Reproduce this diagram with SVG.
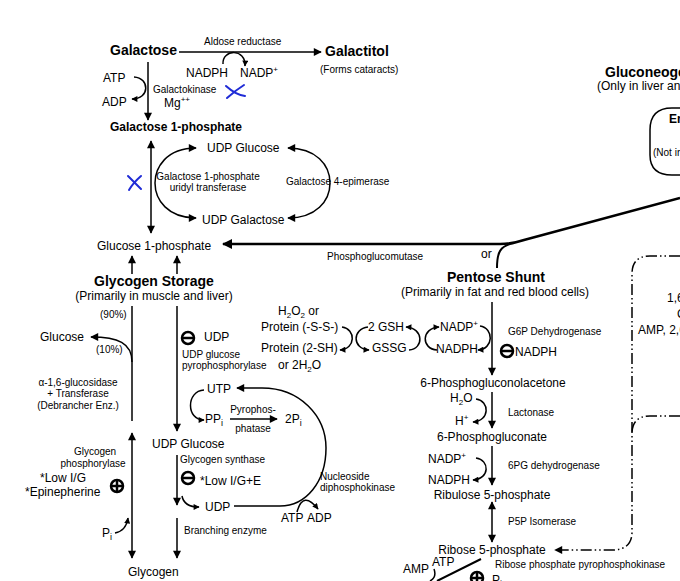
<svg xmlns="http://www.w3.org/2000/svg" width="680" height="581" viewBox="0 0 680 581">
<style>
text{font-family:"Liberation Sans",Arial,sans-serif;font-size:12px;fill:#000}
.s{font-size:10px}
.b{font-weight:bold;font-size:14px}
.m{text-anchor:middle}
.ln{fill:none;stroke:#000;stroke-width:1.5}
.th{stroke-width:2.5}
.dd{stroke-dasharray:11 3 1.5 3 1.5 3}
.x{fill:none;stroke:#1f2bd6;stroke-width:2;stroke-linecap:round}
.sym{fill:none;stroke:#000;stroke-width:2.5}
</style>
<defs>
<marker id="a" viewBox="0 0 10 10" refX="9" refY="5" markerWidth="10" markerHeight="8" orient="auto-start-reverse" markerUnits="userSpaceOnUse"><path d="M0,0 L10,5 L0,10 z"/></marker>
<marker id="sa" viewBox="0 0 10 10" refX="9" refY="5" markerWidth="7" markerHeight="6" orient="auto-start-reverse" markerUnits="userSpaceOnUse"><path d="M0,0 L10,5 L0,10 z"/></marker>
<marker id="ba" viewBox="0 0 10 10" refX="9" refY="5" markerWidth="13" markerHeight="10" orient="auto-start-reverse" markerUnits="userSpaceOnUse"><path d="M0,0 L10,5 L0,10 z"/></marker>
</defs>
<rect width="680" height="581" fill="#fff"/>

<g id="connectors">
<path class="ln" d="M179,52 L321,52" marker-end="url(#a)"/>
<path class="ln" d="M223,64 C222,49 246,48 245,66" marker-end="url(#sa)"/>
<path class="ln" d="M148,62 L148,120" marker-end="url(#a)"/>
<path class="ln" d="M134,77 C150,78 150,99 132,99" marker-end="url(#sa)"/>
<path class="ln" d="M151,141 L151,233" marker-start="url(#a)" marker-end="url(#a)"/>
<path class="ln" d="M196,148 C166,148 155,168 155,183 C155,200 168,218 196,218" marker-start="url(#a)" marker-end="url(#a)"/>
<path class="ln" d="M288,148 C316,148 330,165 330,183 C330,201 316,218 288,218" marker-start="url(#a)" marker-end="url(#a)"/>
<path class="ln th" d="M223,244 L500,244 Q512,244 524,240 L680,198" marker-start="url(#ba)"/>
<path class="ln" style="stroke-width:2" d="M497,268 C497,252 500,246 514,243"/>
<path class="ln" d="M132,274 L132,256" marker-end="url(#a)"/>
<path class="ln" d="M177,274 L177,256" marker-end="url(#a)"/>
<path class="ln" d="M132,306 L132,421"/>
<path class="ln" d="M132,362 C132,343 118,337 91,337" marker-end="url(#a)"/>
<path class="ln" d="M177,306 L177,431" marker-end="url(#a)"/>
<path class="ln" d="M204,390 C186,391 186,420 204,420" marker-end="url(#sa)"/>
<path class="ln" d="M230,419 L277,419" marker-end="url(#a)"/>
<path class="ln" d="M237,388 L262,388 C300,388 326,416 326,448 C326,482 306,506 280,506 L234,506" marker-start="url(#a)"/>
<path class="ln" d="M177,455 L177,505" marker-end="url(#a)"/>
<path class="ln" d="M182,496 Q184,507 199,507" marker-end="url(#sa)"/>
<path class="ln" d="M177,518 L177,558" marker-end="url(#a)"/>
<path class="ln" d="M132,433 L132,558" marker-start="url(#a)" marker-end="url(#a)"/>
<path class="ln" d="M115,533 Q126,531 128,518" marker-end="url(#sa)"/>
<path class="ln" d="M297,512 Q303,490 318,509" marker-end="url(#sa)"/>
<path class="ln" d="M342,327 C356,329 356,349 340,350" marker-end="url(#sa)"/>
<path class="ln" d="M368,327 C352,329 352,349 369,350" marker-end="url(#sa)"/>
<path class="ln" d="M409,350 C424,349 424,328 406,327" marker-end="url(#sa)"/>
<path class="ln" d="M437,350 C421,349 421,328 439,327" marker-end="url(#sa)"/>
<path class="ln" d="M480,326 C494,328 494,349 478,350" marker-end="url(#sa)"/>
<path class="ln" d="M492,302 L492,375" marker-end="url(#a)"/>
<path class="ln" d="M476,399 C490,401 490,421 473,422" marker-end="url(#sa)"/>
<path class="ln" d="M492,392 L492,428" marker-end="url(#a)"/>
<path class="ln" d="M476,458 C490,460 490,479 473,480" marker-end="url(#sa)"/>
<path class="ln" d="M492,446 L492,485" marker-end="url(#a)"/>
<path class="ln" d="M492,502 L492,542" marker-start="url(#a)" marker-end="url(#a)"/>
<path class="ln dd" d="M680,256 L650,256 Q632,256 632,274 L632,532 Q632,550 612,550 L555,550" marker-end="url(#a)"/>
<path class="ln dd" d="M680,416 L650,416 Q632,416 632,434"/>
<path class="ln" style="stroke-width:2" d="M481,559 L437,581"/>
<path class="ln" d="M434,569 Q437,577 430,581"/>
</g>

<g id="galactose">
<text class="b" x="110" y="55">Galactose</text>
<text x="103" y="82">ATP</text>
<text x="102" y="106">ADP</text>
<text class="s" x="153" y="93">Galactokinase</text>
<text x="164" y="107">Mg<tspan font-size="8" dy="-5">++</tspan></text>
<path class="x" d="M226,86 Q236,95 245,96 M227,98 Q236,90 244,85"/>
</g>

<g id="galactitol">
<text class="s" x="204" y="45">Aldose reductase</text>
<text x="186" y="77">NADPH</text>
<text x="240" y="77">NADP<tspan font-size="8" dy="-5">+</tspan></text>
<text class="b" x="325" y="56">Galactitol</text>
<text class="s" x="320" y="73">(Forms cataracts)</text>
</g>

<g id="galactose1p">
<text style="font-weight:bold" x="110" y="131">Galactose 1-phosphate</text>
<path class="x" d="M128,176 L141,189 M141,176 Q133,183 129,190"/>
<text class="s m" x="208" y="180">Galactose 1-phosphate</text>
<text class="s m" x="208" y="191">uridyl transferase</text>
</g>

<g id="udp-glucose-top">
<text x="207" y="152">UDP Glucose</text>
<text x="202" y="224">UDP Galactose</text>
<text class="s" x="286" y="185">Galactose 4-epimerase</text>
</g>

<g id="glucose1p">
<text x="97" y="250">Glucose 1-phosphate</text>
<text class="s" x="327" y="260">Phosphoglucomutase</text>
<text x="481" y="258">or</text>
</g>

<g id="glycogen-storage">
<text class="b m" x="154" y="286">Glycogen Storage</text>
<text class="m" x="154" y="300">(Primarily in muscle and liver)</text>
<text class="s" x="100" y="318">(90%)</text>
<text x="40" y="341">Glucose</text>
<text class="s" x="96" y="353">(10%)</text>
<text class="s m" x="78" y="386">α-1,6-glucosidase</text>
<text class="s m" x="78" y="397">+ Transferase</text>
<text class="s m" x="78" y="409">(Debrancher Enz.)</text>
<circle class="sym" cx="188" cy="338" r="6"/><path class="sym" d="M182,338 L194,338"/>
<text x="204" y="341">UDP</text>
<text class="s" x="182" y="358">UDP glucose</text>
<text class="s" x="182" y="369">pyrophosphorylase</text>
<text x="207" y="393">UTP</text>
<text x="205" y="423">PP<tspan font-size="9" dy="3">i</tspan></text>
<text class="s m" x="253" y="413">Pyrophos-</text>
<text class="s m" x="253" y="432">phatase</text>
<text x="285" y="423">2P<tspan font-size="9" dy="3">i</tspan></text>
</g>

<g id="udp-glucose">
<text x="152" y="448">UDP Glucose</text>
<text class="s" x="180" y="463">Glycogen synthase</text>
<circle class="sym" cx="188" cy="478" r="6"/><path class="sym" d="M182,478 L194,478"/>
<text x="200" y="485">*Low I/G+E</text>
<text x="205" y="511">UDP</text>
<text class="s" x="320" y="480">Nucleoside</text>
<text class="s" x="320" y="491">diphosphokinase</text>
<text x="281" y="522">ATP</text>
<text x="307" y="522">ADP</text>
<text class="s" x="184" y="534">Branching enzyme</text>
</g>

<g id="glycogen">
<text class="s m" x="95" y="455">Glycogen</text>
<text class="s m" x="93" y="467">phosphorylase</text>
<text x="40" y="482">*Low I/G</text>
<text x="25" y="496">*Epinepherine</text>
<circle class="sym" cx="117" cy="486" r="6"/><path class="sym" d="M111,486 L123,486 M117,480 L117,492"/>
<text x="102" y="537">P<tspan font-size="9" dy="3">i</tspan></text>
<text x="128" y="576">Glycogen</text>
</g>

<g id="glutathione">
<text x="278" y="315">H<tspan font-size="8" dy="3">2</tspan><tspan dy="-3">O</tspan><tspan font-size="8" dy="3">2</tspan><tspan dy="-3"> or</tspan></text>
<text x="261" y="331">Protein (-S-S-)</text>
<text x="261" y="352">Protein (2-SH)</text>
<text x="278" y="369">or 2H<tspan font-size="8" dy="3">2</tspan><tspan dy="-3">O</tspan></text>
<text x="368" y="331">2 GSH</text>
<text x="372" y="352">GSSG</text>
<text x="440" y="331">NADP<tspan font-size="8" dy="-5">+</tspan></text>
<text x="436" y="353">NADPH</text>
</g>

<g id="pentose-shunt">
<text class="b" x="447" y="282">Pentose Shunt</text>
<text class="m" x="495" y="296">(Primarily in fat and red blood cells)</text>
<text class="s" x="508" y="335">G6P Dehydrogenase</text>
<circle class="sym" cx="507" cy="351" r="6"/><path class="sym" d="M501,351 L513,351"/>
<text x="515" y="356">NADPH</text>
<text class="m" x="493" y="387">6-Phosphogluconolacetone</text>
<text x="450" y="402">H<tspan font-size="8" dy="3">2</tspan><tspan dy="-3">O</tspan></text>
<text x="455" y="425">H<tspan font-size="8" dy="-5">+</tspan></text>
<text class="s" x="508" y="416">Lactonase</text>
<text class="m" x="492" y="441">6-Phosphogluconate</text>
<text x="428" y="463">NADP<tspan font-size="8" dy="-5">+</tspan></text>
<text x="428" y="484">NADPH</text>
<text class="s" x="508" y="469">6PG dehydrogenase</text>
<text class="m" x="492" y="499">Ribulose 5-phosphate</text>
<text class="s" x="508" y="525">P5P Isomerase</text>
<text class="m" x="492" y="554">Ribose 5-phosphate</text>
<text class="s" x="495" y="568">Ribose phosphate pyrophosphokinase</text>
<text x="403" y="573">AMP</text>
<text x="432" y="566">ATP</text>
<circle class="sym" cx="477" cy="578" r="6"/><path class="sym" d="M471,578 L483,578 M477,572 L477,584"/>
<text x="492" y="584">P<tspan font-size="9" dy="3">i</tspan></text>
</g>

<g id="gluconeogenesis">
<text class="b" x="605" y="77">Gluconeogenesis</text>
<text x="597" y="90">(Only in liver and</text>
<path class="ln" d="M680,108 L672,108 Q650,108 650,130 L650,155 Q650,175 672,175 L680,175"/>
<text style="font-weight:bold" x="669" y="123">En</text>
<text class="s" x="653" y="156">(Not in</text>
</g>

<g id="right-box">
<text x="667" y="302">1,6</text>
<text x="677" y="318">C</text>
<text x="638" y="334">AMP, 2,6</text>
</g>
</svg>
